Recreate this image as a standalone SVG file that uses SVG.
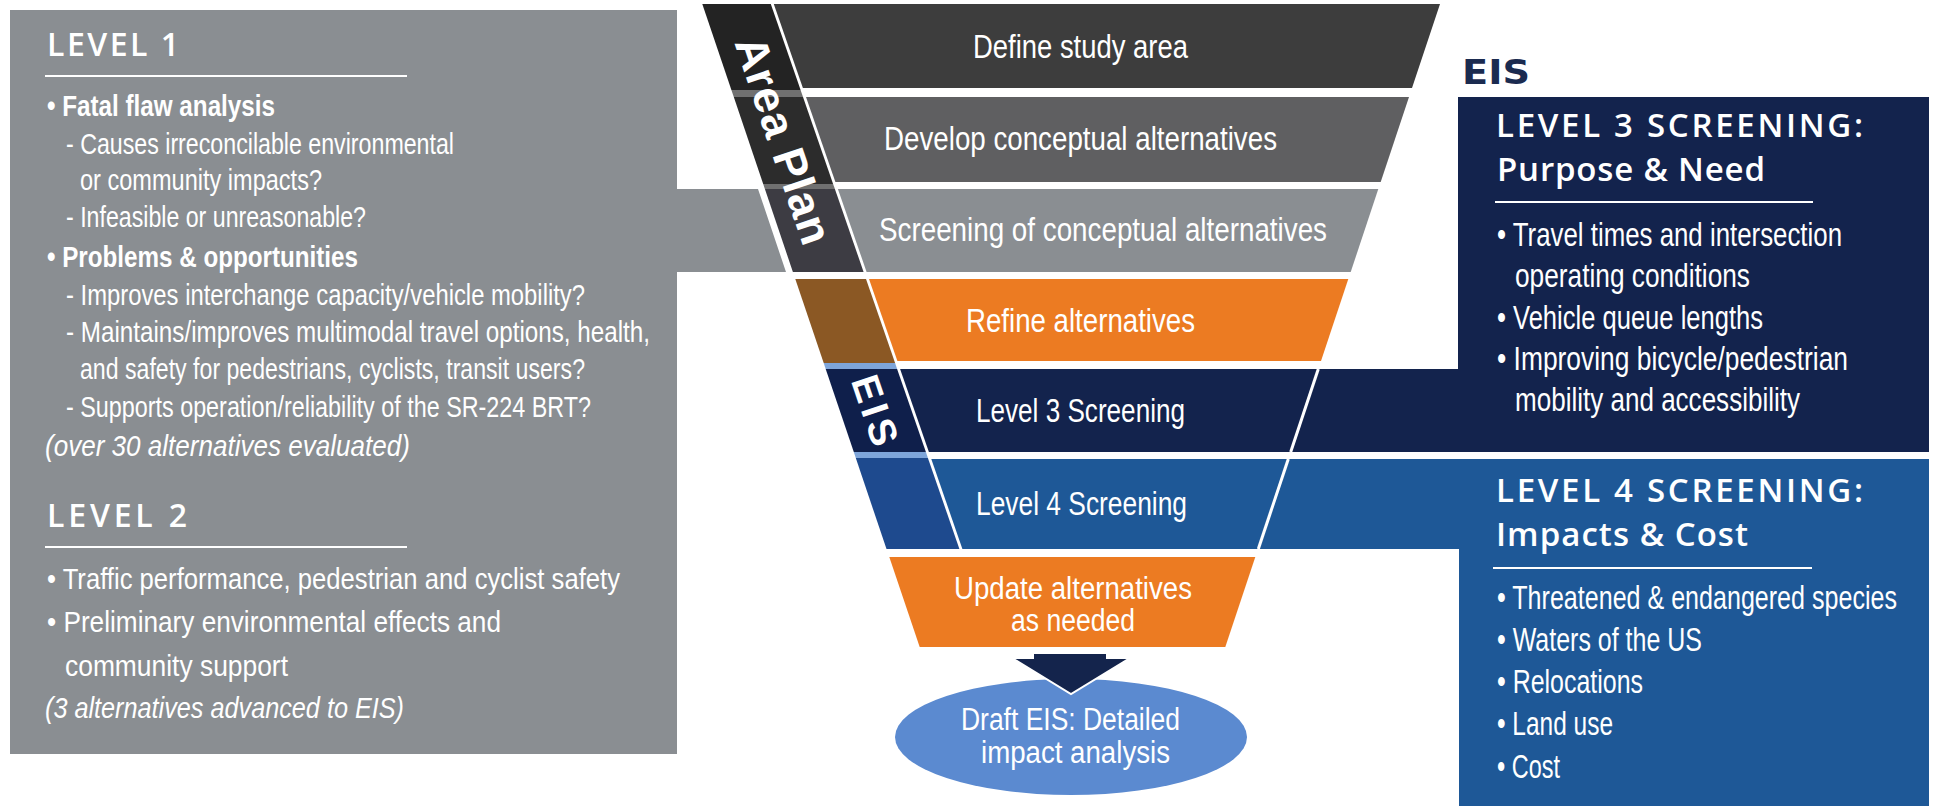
<svg xmlns="http://www.w3.org/2000/svg" width="1935" height="806" viewBox="0 0 1935 806">
<defs>
<style>
.tx{font-family:"Liberation Sans",Arial,sans-serif;fill:#fff}
.lb{font-size:30px}
.rb{font-size:33px}
.bd{font-size:34px}
.bd2{font-size:31px}
.bold{font-weight:bold}
.it{font-style:italic}
.hd{font-family:"Open Sans","Liberation Sans",Arial,sans-serif;font-weight:600;fill:#fff}
.rule{stroke:#fff;stroke-width:2}
.edge{stroke:#fff;stroke-width:3}
.st{font-family:"Liberation Sans",Arial,sans-serif;font-weight:bold;fill:#fff}
</style>
</defs>
<rect width="1935" height="806" fill="#fff"/>

<g id="level12-panel">
<path d="M10 10H677V189H758L786 272H677V754H10Z" fill="#8a8e92"/>
<text class="hd" x="47" y="56" font-size="32" textLength="132" lengthAdjust="spacing">LEVEL 1</text>
<line class="rule" x1="45" y1="76" x2="407" y2="76"/>
<text class="tx lb bold" x="47" y="116" textLength="228" lengthAdjust="spacingAndGlyphs">• Fatal flaw analysis</text>
<text class="tx lb" x="66" y="154" textLength="388" lengthAdjust="spacingAndGlyphs">- Causes irreconcilable environmental</text>
<text class="tx lb" x="80" y="190" textLength="242" lengthAdjust="spacingAndGlyphs">or community impacts?</text>
<text class="tx lb" x="66" y="227" textLength="300" lengthAdjust="spacingAndGlyphs">- Infeasible or unreasonable?</text>
<text class="tx lb bold" x="47" y="267" textLength="311" lengthAdjust="spacingAndGlyphs">• Problems &amp; opportunities</text>
<text class="tx lb" x="66" y="305" textLength="519" lengthAdjust="spacingAndGlyphs">- Improves interchange capacity/vehicle mobility?</text>
<text class="tx lb" x="66" y="342" textLength="584" lengthAdjust="spacingAndGlyphs">- Maintains/improves multimodal travel options, health,</text>
<text class="tx lb" x="80" y="379" textLength="505" lengthAdjust="spacingAndGlyphs">and safety for pedestrians, cyclists, transit users?</text>
<text class="tx lb" x="66" y="417" textLength="525" lengthAdjust="spacingAndGlyphs">- Supports operation/reliability of the SR-224 BRT?</text>
<text class="tx lb it" x="45" y="456" textLength="365" lengthAdjust="spacingAndGlyphs">(over 30 alternatives evaluated)</text>
<text class="hd" x="47" y="527" font-size="32" textLength="140" lengthAdjust="spacing">LEVEL 2</text>
<line class="rule" x1="45" y1="547" x2="407" y2="547"/>
<text class="tx lb" x="47" y="589" textLength="573" lengthAdjust="spacingAndGlyphs">• Traffic performance, pedestrian and cyclist safety</text>
<text class="tx lb" x="47" y="632" textLength="454" lengthAdjust="spacingAndGlyphs">• Preliminary environmental effects and</text>
<text class="tx lb" x="65" y="676" textLength="223" lengthAdjust="spacingAndGlyphs">community support</text>
<text class="tx lb it" x="45" y="718" textLength="359" lengthAdjust="spacingAndGlyphs">(3 alternatives advanced to EIS)</text>
</g>

<g id="area-plan-strip">
<polygon points="702.3,4 770.8,4 800.6,90 731.4,90" fill="#232323"/>
<polygon points="731.4,90 800.6,90 803,97 733.8,97" fill="#707070"/>
<polygon points="733.8,97 803,97 833.1,184 763.2,184" fill="#2c2c2c"/>
<polygon points="763.2,184 833.1,184 834.9,189 764.9,189" fill="#707070"/>
<polygon points="764.9,189 834.9,189 863.6,272 792.9,272" fill="#3d3c43"/>
<text class="st" transform="translate(784,140) rotate(71.3)" x="0" y="16" font-size="45" text-anchor="middle" textLength="216" lengthAdjust="spacing">Area Plan</text>
</g>

<g id="eis-strip">
<polygon points="795.3,279 866,279 895.1,363 823.7,363" fill="#8b5824"/>
<polygon points="823.7,363 895.1,363 897.1,369 825.7,369" fill="#7ea5da"/>
<polygon points="825.7,369 897.1,369 925.9,452 853.8,452" fill="#0f1f4b"/>
<polygon points="853.8,452 925.9,452 927.9,458 855.8,458" fill="#7ea5da"/>
<polygon points="855.8,458 927.9,458 959.4,549 886.5,549" fill="#1e4a8e"/>
<text class="st" transform="translate(875.5,410) rotate(71.3)" x="0" y="14" font-size="39" text-anchor="middle" textLength="72" lengthAdjust="spacing">EIS</text>
</g>

<g id="band-define">
<polygon points="773.8,4 1440,4 1412,88 802.9,88" fill="#3d3d3d"/>
<text class="tx bd" x="973" y="58" textLength="215" lengthAdjust="spacingAndGlyphs">Define study area</text>
</g>
<g id="band-develop">
<polygon points="806,97 1409,97 1380.7,182 835.4,182" fill="#5f5f61"/>
<text class="tx bd" x="884" y="150" textLength="393" lengthAdjust="spacingAndGlyphs">Develop conceptual alternatives</text>
</g>
<g id="band-screening">
<polygon points="837.9,189 1378.3,189 1350.7,272 866.6,272" fill="#8a8e92"/>
<text class="tx bd" x="879" y="241" textLength="448" lengthAdjust="spacingAndGlyphs">Screening of conceptual alternatives</text>
</g>
<g id="band-refine">
<polygon points="869,279 1348.3,279 1321,361 897.4,361" fill="#ec7b22"/>
<text class="tx bd" x="966" y="332" textLength="229" lengthAdjust="spacingAndGlyphs">Refine alternatives</text>
</g>

<g id="level3">
<rect x="1458" y="97" width="471" height="355" fill="#13234d"/>
<polygon points="900.1,369 1929,369 1929,452 928.9,452" fill="#13234d"/>
<line class="edge" x1="1318.3" y1="369" x2="1290.7" y2="452"/>
<text class="tx bd" x="976" y="422" textLength="209" lengthAdjust="spacingAndGlyphs">Level 3 Screening</text>
<text class="hd" x="1496" y="137" font-size="33" textLength="367" lengthAdjust="spacing">LEVEL 3 SCREENING:</text>
<text class="hd" x="1497" y="181" font-size="33" textLength="268" lengthAdjust="spacing">Purpose &amp; Need</text>
<line class="rule" x1="1495" y1="202" x2="1813" y2="202"/>
<text class="tx rb" x="1497" y="246" textLength="345" lengthAdjust="spacingAndGlyphs">• Travel times and intersection</text>
<text class="tx rb" x="1515" y="287" textLength="235" lengthAdjust="spacingAndGlyphs">operating conditions</text>
<text class="tx rb" x="1497" y="329" textLength="266" lengthAdjust="spacingAndGlyphs">• Vehicle queue lengths</text>
<text class="tx rb" x="1497" y="370" textLength="351" lengthAdjust="spacingAndGlyphs">• Improving bicycle/pedestrian</text>
<text class="tx rb" x="1515" y="411" textLength="285" lengthAdjust="spacingAndGlyphs">mobility and accessibility</text>
</g>

<g id="level4">
<rect x="1459" y="459" width="470" height="347" fill="#1e5897"/>
<polygon points="931.3,459 1929,459 1929,549 962.4,549" fill="#1e5897"/>
<line class="edge" x1="1288.3" y1="459" x2="1258.3" y2="549"/>
<text class="tx bd" x="976" y="515" textLength="211" lengthAdjust="spacingAndGlyphs">Level 4 Screening</text>
<text class="hd" x="1496" y="502" font-size="33" textLength="367" lengthAdjust="spacing">LEVEL 4 SCREENING:</text>
<text class="hd" x="1496" y="546" font-size="33" textLength="252" lengthAdjust="spacing">Impacts &amp; Cost</text>
<line class="rule" x1="1493" y1="568" x2="1812" y2="568"/>
<text class="tx rb" transform="translate(1497,609) scale(0.76,1)" x="0" y="0">• Threatened &amp; endangered species</text>
<text class="tx rb" x="1497" y="651" textLength="205" lengthAdjust="spacingAndGlyphs">• Waters of the US</text>
<text class="tx rb" x="1497" y="693" textLength="146" lengthAdjust="spacingAndGlyphs">• Relocations</text>
<text class="tx rb" x="1497" y="735" textLength="116" lengthAdjust="spacingAndGlyphs">• Land use</text>
<text class="tx rb" x="1497" y="778" textLength="63" lengthAdjust="spacingAndGlyphs">• Cost</text>
</g>

<g id="eis-title">
<text x="1462" y="84" font-family="'DejaVu Sans','Liberation Sans',Arial,sans-serif" font-weight="bold" font-size="34" fill="#1b2b50" textLength="68" lengthAdjust="spacingAndGlyphs">EIS</text>
</g>

<g id="band-update">
<polygon points="889.3,557 1255.3,557 1225.3,647 919.7,647" fill="#ec7b22"/>
<text class="tx bd2" x="954" y="599" textLength="238" lengthAdjust="spacingAndGlyphs">Update alternatives</text>
<text class="tx bd2" x="1011" y="631" textLength="124" lengthAdjust="spacingAndGlyphs">as needed</text>
</g>

<g id="draft-eis">
<ellipse cx="1071" cy="737" rx="176" ry="58" fill="#5b8ad0"/>
<text class="tx bd2" x="961" y="730" textLength="219" lengthAdjust="spacingAndGlyphs">Draft EIS: Detailed</text>
<text class="tx bd2" x="981" y="763" textLength="189" lengthAdjust="spacingAndGlyphs">impact analysis</text>
</g>

<g id="connectors">
<polygon points="1033,653 1107,653 1107,658 1130,658 1071,694 1012,658 1033,658" fill="#14244c" stroke="#fff" stroke-width="2" stroke-linejoin="miter"/>
</g>
</svg>
